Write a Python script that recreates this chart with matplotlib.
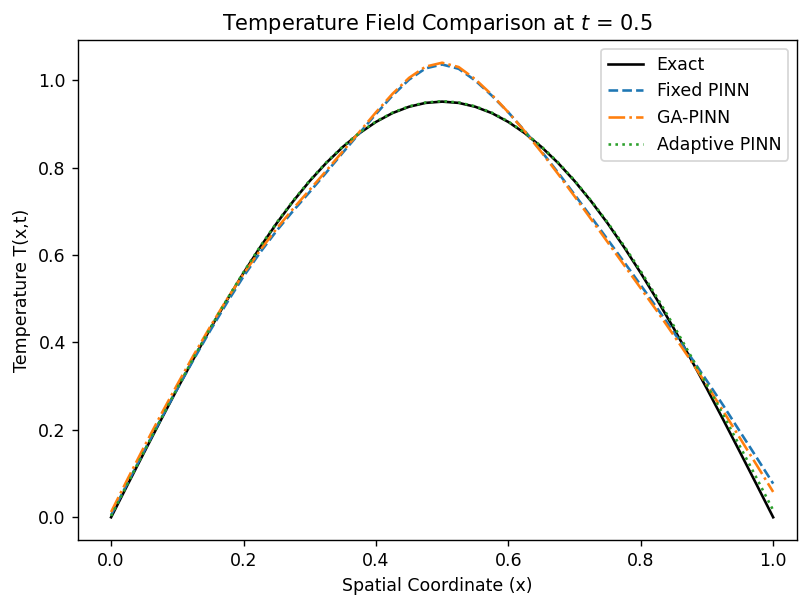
import numpy as np
import matplotlib.pyplot as plt

# =========================
# DATA
# =========================
x = [0.000, 0.025, 0.050, 0.075, 0.100, 0.125, 0.150, 0.175, 0.200, 0.225,
     0.250, 0.275, 0.300, 0.325, 0.350, 0.375, 0.400, 0.425, 0.450, 0.475,
     0.500, 0.525, 0.550, 0.575, 0.600, 0.625, 0.650, 0.675, 0.700, 0.725,
     0.750, 0.775, 0.800, 0.825, 0.850, 0.875, 0.900, 0.925, 0.950, 0.975,
     1.000]

exact = [0.0000, 0.0747, 0.1487, 0.2220, 0.2939, 0.3639, 0.4318, 0.4969, 0.5590, 0.6176,
         0.6725, 0.7231, 0.7694, 0.8108, 0.8473, 0.8786, 0.9045, 0.9248, 0.9393, 0.9481,
         0.9510, 0.9481, 0.9393, 0.9248, 0.9045, 0.8786, 0.8473, 0.8108, 0.7694, 0.7231,
         0.6725, 0.6176, 0.5590, 0.4969, 0.4318, 0.3639, 0.2939, 0.2220, 0.1487, 0.0747,
         0.0000]

fixed_pinn = [0.0050, 0.0787, 0.1517, 0.2240, 0.2939, 0.3619, 0.4278, 0.4909, 0.5510, 0.6056,
              0.6555, 0.7011, 0.7444, 0.7888, 0.8343, 0.8786, 0.9225, 0.9648, 1.0013, 1.0271,
              1.0360, 1.0261, 0.9993, 0.9648, 0.9265, 0.8836, 0.8373, 0.7888, 0.7384, 0.6871,
              0.6355, 0.5836, 0.5310, 0.4779, 0.4228, 0.3679, 0.3119, 0.2550, 0.1957, 0.1367,
              0.0770]

ga_pinn = [0.0120, 0.0877, 0.1617, 0.2340, 0.3039, 0.3719, 0.4368, 0.4989, 0.5570, 0.6106,
           0.6605, 0.7061, 0.7494, 0.7928, 0.8373, 0.8816, 0.9265, 0.9688, 1.0053, 1.0311,
           1.0400, 1.0301, 1.0023, 0.9668, 0.9265, 0.8826, 0.8353, 0.7858, 0.7344, 0.6821,
           0.6295, 0.5766, 0.5240, 0.4709, 0.4158, 0.3599, 0.3019, 0.2420, 0.1807, 0.1197,
           0.0580]

adaptive_pinn = [0.0030, 0.0772, 0.1512, 0.2243, 0.2961, 0.3660, 0.4337, 0.4987, 0.5607, 0.6192,
                 0.6740, 0.7245, 0.7707, 0.8120, 0.8484, 0.8796, 0.9055, 0.9257, 0.9402, 0.9490,
                 0.9520, 0.9491, 0.9403, 0.9258, 0.9055, 0.8796, 0.8484, 0.8120, 0.7707, 0.7245,
                 0.6745, 0.6206, 0.5630, 0.5019, 0.4378, 0.3709, 0.3029, 0.2330, 0.1617, 0.0897,
                 0.0160]

# =========================
# PLOT
# =========================
fig = plt.figure(figsize=(799/125, 595/125), dpi=125)
ax = fig.add_axes([78/799, 1 - 540/595, (797 - 78)/799, 500/595])

ax.plot(x, exact, 'k-', label='Exact')
ax.plot(x, fixed_pinn, '--', color='tab:blue', label='Fixed PINN')
ax.plot(x, ga_pinn, '-.', color='tab:orange', label='GA-PINN')
ax.plot(x, adaptive_pinn, ':', color='tab:green', label='Adaptive PINN')

ax.set_xlim(-0.05, 1.036)
ax.set_xlabel('Spatial Coordinate (x)')
ax.set_ylabel('Temperature T(x,t)')
ax.set_title('Temperature Field Comparison at $t$ = 0.5')
ax.legend(loc='upper right')

fig.savefig('out.png', dpi=125)
